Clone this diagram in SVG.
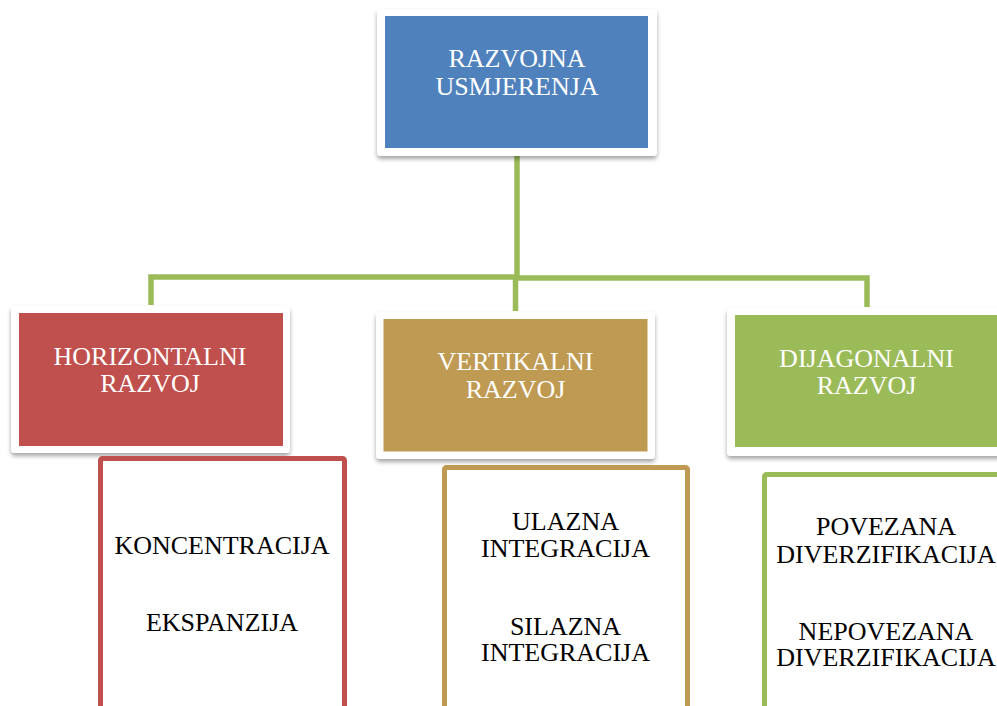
<svg xmlns="http://www.w3.org/2000/svg" width="997" height="706" viewBox="0 0 997 706">
<defs>
<filter id="sh" x="-10%" y="-10%" width="120%" height="130%">
<feDropShadow dx="0" dy="3" stdDeviation="2.2" flood-color="#000" flood-opacity="0.35"/>
</filter>
</defs>
<style>
.frame{fill:#fff;filter:url(#sh)}
.t{font-family:"Liberation Serif","Times New Roman",serif;font-size:26px;text-anchor:middle}
.w{fill:#fff}
.k{fill:#000}
.conn{fill:none;stroke:#9BBB59;stroke-width:5.5;stroke-linejoin:miter}
.child{fill:#fff;stroke-width:5}
</style>
<rect width="997" height="706" fill="#fff"/>
<g id="connectors">
<path class="conn" d="M517 156 V277"/>
<path class="conn" d="M151 305 V277 H517"/>
<path class="conn" d="M517 278 H867 V307"/>
<path class="conn" d="M515.5 278 V311"/>
</g>
<g id="n-top">
<rect class="frame" x="377" y="9" width="280" height="147" rx="4"/>
<rect x="385" y="16" width="263" height="132" fill="#4F81BD"/>
<text class="t w" x="517" y="67">RAZVOJNA</text>
<text class="t w" x="517" y="95">USMJERENJA</text>
</g>
<g id="n-horizontal">
<rect class="frame" x="11" y="306" width="279" height="147" rx="4"/>
<rect x="19" y="313" width="264" height="133" fill="#C0504D"/>
<text class="t w" x="150" y="365">HORIZONTALNI</text>
<text class="t w" x="150" y="392">RAZVOJ</text>
</g>
<g id="n-vertical">
<rect class="frame" x="376" y="312" width="279" height="147" rx="4"/>
<rect x="383.5" y="319" width="264" height="132.5" fill="#BF9A52"/>
<text class="t w" x="515.5" y="370">VERTIKALNI</text>
<text class="t w" x="515.5" y="398">RAZVOJ</text>
</g>
<g id="n-diagonal">
<rect class="frame" x="727" y="308" width="290" height="148" rx="4"/>
<rect x="735" y="315" width="270" height="132" fill="#9BBB59"/>
<text class="t w" x="866.5" y="366.5">DIJAGONALNI</text>
<text class="t w" x="866.5" y="394">RAZVOJ</text>
</g>
<g id="c-horizontal">
<rect class="child" x="100.5" y="458.5" width="244" height="260" rx="2" stroke="#C0504D"/>
<text class="t k" x="222" y="554">KONCENTRACIJA</text>
<text class="t k" x="222" y="630.5">EKSPANZIJA</text>
</g>
<g id="c-vertical">
<rect class="child" x="444.5" y="467.5" width="243" height="260" rx="2" stroke="#BF9A52"/>
<text class="t k" x="565.5" y="530">ULAZNA</text>
<text class="t k" x="565.5" y="556.5">INTEGRACIJA</text>
<text class="t k" x="565.5" y="635">SILAZNA</text>
<text class="t k" x="565.5" y="661">INTEGRACIJA</text>
</g>
<g id="c-diagonal">
<rect class="child" x="764.5" y="474.5" width="244" height="260" rx="2" stroke="#9BBB59"/>
<text class="t k" x="886" y="535">POVEZANA</text>
<text class="t k" x="886" y="562.5">DIVERZIFIKACIJA</text>
<text class="t k" x="886" y="640">NEPOVEZANA</text>
<text class="t k" x="886" y="666">DIVERZIFIKACIJA</text>
</g>
</svg>
